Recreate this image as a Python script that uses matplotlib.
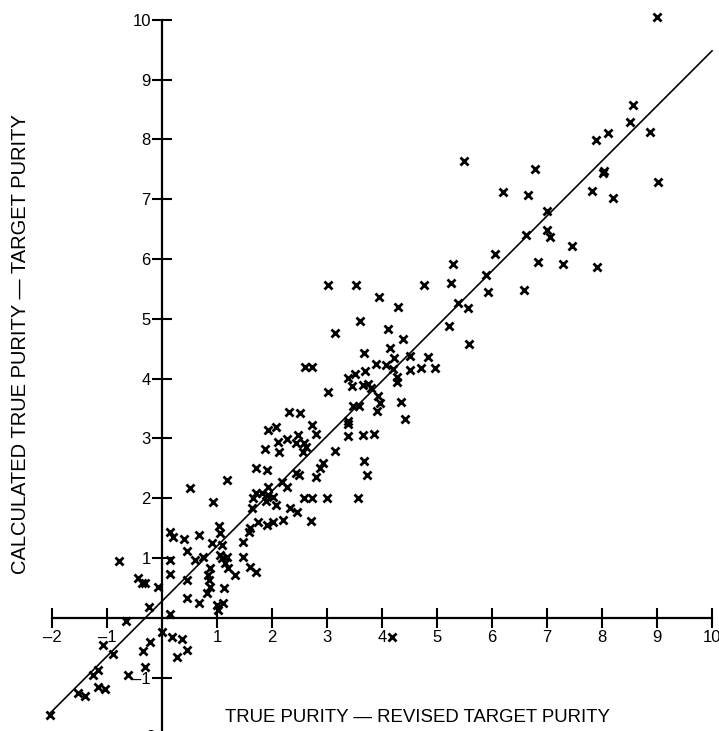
import matplotlib
matplotlib.use("Agg")
import matplotlib.pyplot as plt

# values
true_vs_revised = [
    9.0, 8.56, 8.51, 7.89, 8.11, 8.87, 5.49, 6.78, 8.02, 8.04, 6.2, 6.65, 7.82, 9.02, 8.2,
    7.0, 7.0, 7.05, 6.62, 7.45, 6.05, 5.29, 6.84, 7.29, 7.91, 5.89, 5.25, 5.93, 6.58, 5.38,
    5.56, 5.22, 5.58,
    3.02, 3.53, 4.76, 3.95, 4.29, 3.6, 3.15, 4.11, 4.38, 4.15, 3.67, 4.22, 4.51, 4.84, 2.6,
    2.73, 3.89, 4.07, 4.2, 4.51, 4.71, 4.96, 3.69, 3.51, 3.38, 4.27, 4.27, 3.45, 3.65, 3.75,
    3.8, 3.02, 3.93, 3.96, 4.35, 3.47, 3.58, 3.91, 4.42, 3.38, 3.38, 2.51, 2.73, 2.8, 3.38,
    3.65, 3.85, 2.58,
    2.31, 1.93, 2.07, 2.47, 2.11, 2.27, 2.44, 2.62, 1.87, 2.13, 2.56, 3.15, 3.67, 1.71, 1.91,
    2.93, 2.87, 3.73, 2.44, 2.49, 2.8, 1.18, 2.18, 2.27, 0.51, 1.93, 1.71, 1.82, 1.65, 1.93,
    2.02, 1.89, 2.07, 2.58, 2.73, 3.0, 3.56, 0.93, 1.64, 2.33, 2.45, 2.71, 1.75, 1.91, 2.02,
    2.2, 1.04, 1.6,
    0.15, 0.2, 0.4, 0.67, 1.05, 0.91, 1.09, 1.47, 1.58, 0.45, 0.75, 0.6, 0.15, 0.15, -0.78,
    1.05, 1.09, 1.18, 1.15, 1.2, 1.33, 1.47, 1.6, 1.71, 0.87, 0.84, 0.85, 0.87, 0.82, 1.13,
    1.11, 1.0, 1.02, 0.45, 0.45, 0.67, -0.44, -0.36, -0.31, -0.07, -0.24, 0.15, -0.65,
    -1.07, 0.0, 0.18, 0.36, 0.45, 0.27, -0.22, -0.35, -0.89, -1.16, -1.25, -0.31, -0.62,
    -1.53, -1.4, -1.16, -1.04, -2.04, 4.18,
]
calc_vs_target = [
    10.05, 8.58, 8.29, 7.99, 8.11, 8.13, 7.64, 7.51, 7.44, 7.47, 7.12, 7.07, 7.14, 7.29, 7.02,
    6.81, 6.49, 6.37, 6.4, 6.22, 6.09, 5.92, 5.95, 5.92, 5.87, 5.74, 5.6, 5.45, 5.48, 5.27,
    5.18, 4.88, 4.58,
    5.57, 5.57, 5.57, 5.37, 5.2, 4.97, 4.77, 4.83, 4.67, 4.52, 4.43, 4.35, 4.38, 4.36, 4.2,
    4.2, 4.25, 4.23, 4.16, 4.15, 4.18, 4.18, 4.13, 4.08, 4.01, 4.03, 3.95, 3.88, 3.9, 3.91,
    3.85, 3.78, 3.71, 3.6, 3.61, 3.55, 3.55, 3.46, 3.33, 3.3, 3.24, 3.43, 3.22, 3.08, 3.04,
    3.06, 3.08, 2.93,
    3.44, 3.14, 3.19, 3.06, 2.94, 2.99, 2.93, 2.86, 2.83, 2.78, 2.78, 2.79, 2.63, 2.51, 2.47,
    2.59, 2.51, 2.39, 2.42, 2.39, 2.36, 2.31, 2.27, 2.19, 2.17, 2.19, 2.09, 2.09, 2.01, 2.05,
    2.02, 1.96, 1.89, 2.01, 2.01, 2.01, 2.01, 1.94, 1.84, 1.84, 1.77, 1.62, 1.61, 1.56, 1.61,
    1.64, 1.53, 1.5,
    1.44, 1.35, 1.32, 1.39, 1.42, 1.25, 1.22, 1.27, 1.44, 1.12, 1.02, 0.97, 0.97, 0.74, 0.95,
    1.05, 1.0, 1.02, 0.92, 0.84, 0.72, 1.02, 0.85, 0.77, 0.84, 0.72, 0.64, 0.52, 0.42, 0.5,
    0.25, 0.22, 0.13, 0.64, 0.33, 0.25, 0.67, 0.59, 0.59, 0.52, 0.18, 0.07, -0.05,
    -0.45, -0.23, -0.32, -0.35, -0.54, -0.65, -0.4, -0.55, -0.6, -0.87, -0.95, -0.82, -0.95,
    -1.25, -1.3, -1.15, -1.19, -1.62, -0.32,
]

# fitted line
fit_slope = 0.92
fit_intercept = 0.28
fit_x = [-2.04, 10.0]

x_ticks = [-2, -1, 1, 2, 3, 4, 5, 6, 7, 8, 9, 10]
y_ticks = [-1, 1, 2, 3, 4, 5, 6, 7, 8, 9, 10]

plt.rcParams['font.family'] = ['Liberation Sans', 'DejaVu Sans']

fig = plt.figure(figsize=(7.19, 7.31), dpi=100)
ax = fig.add_axes([0, 0, 1, 1])
ax.set_xlim(-2.945, 10.127)
ax.set_ylim(-1.89, 10.33)

ax.plot(true_vs_revised, calc_vs_target, 'x', color='black', markersize=5.5, markeredgewidth=2.0)
ax.plot(fit_x, [fit_intercept + fit_slope * v for v in fit_x], color='black', linewidth=1.2)

for side in ['top', 'right']:
    ax.spines[side].set_visible(False)
ax.spines['left'].set_position(('data', 0))
ax.spines['bottom'].set_position(('data', 0))
ax.spines['left'].set_bounds(-2.5, 10)
ax.spines['bottom'].set_bounds(-2, 10)
ax.spines['left'].set_linewidth(1.6)
ax.spines['bottom'].set_linewidth(1.6)

ax.set_xticks(x_ticks)
ax.set_xticklabels([str(t).replace('-', '\u2013') for t in x_ticks])
ax.set_yticks(y_ticks)
ax.set_yticklabels([str(t).replace('-', '\u2013') for t in y_ticks])
ax.tick_params(axis='x', direction='inout', length=14, width=1.5, pad=2, labelsize=12)
ax.tick_params(axis='y', direction='inout', length=14, width=1.5, pad=1, labelsize=12)

# clipped -2 label at the bottom of the y axis
ax.text(-0.12, -2, '\u20132', ha='right', va='center', fontsize=12, clip_on=False)

fig.text(0.028, 0.53, 'CALCULATED TRUE PURITY \u2014 TARGET PURITY', rotation=90,
         ha='center', va='center', fontsize=14.5)
fig.text(0.58, 0.018, 'TRUE PURITY \u2014 REVISED TARGET PURITY', ha='center', va='center',
         fontsize=13.4)

fig.savefig('out.png', dpi=100)
